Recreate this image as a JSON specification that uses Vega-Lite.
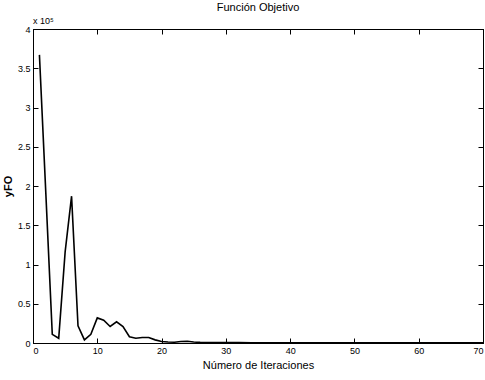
{
  "$schema": "https://vega.github.io/schema/vega-lite/v6.json",
  "width": 450,
  "height": 314,
  "autosize": {"type": "none"},
  "padding": {"left": 33, "top": 29, "right": 2, "bottom": 37},
  "background": "white",
  "config": {
    "font": "Liberation Sans Narrow, Liberation Sans, Arial",
    "view": {"stroke": "black", "strokeWidth": 1},
    "axis": {"grid": false, "domainColor": "black", "tickColor": "black", "labelColor": "black", "titleColor": "black", "labelFontSize": 9, "titleFontSize": 11, "titleFontWeight": "normal", "tickSize": -5, "labelPadding": 8}
  },
  "title": {"text": "Función Objetivo", "fontSize": 11, "fontWeight": "normal", "offset": 4, "color": "black"},
  "data": {"values": [
    {"iter": 1, "yfo": 367000}, {"iter": 2, "yfo": 190000}, {"iter": 3, "yfo": 11000}, {"iter": 4, "yfo": 6000},
    {"iter": 5, "yfo": 116000}, {"iter": 6, "yfo": 187000}, {"iter": 7, "yfo": 22000}, {"iter": 8, "yfo": 4000},
    {"iter": 9, "yfo": 11000}, {"iter": 10, "yfo": 32000}, {"iter": 11, "yfo": 29000}, {"iter": 12, "yfo": 21000},
    {"iter": 13, "yfo": 27000}, {"iter": 14, "yfo": 21000}, {"iter": 15, "yfo": 8000}, {"iter": 16, "yfo": 6000},
    {"iter": 17, "yfo": 7000}, {"iter": 18, "yfo": 7000}, {"iter": 19, "yfo": 4000}, {"iter": 20, "yfo": 2000},
    {"iter": 21, "yfo": 1200}, {"iter": 22, "yfo": 1000}, {"iter": 23, "yfo": 2000}, {"iter": 24, "yfo": 2200},
    {"iter": 25, "yfo": 1200}, {"iter": 26, "yfo": 800}, {"iter": 27, "yfo": 700}, {"iter": 28, "yfo": 600},
    {"iter": 29, "yfo": 600}, {"iter": 30, "yfo": 500}, {"iter": 32, "yfo": 500}, {"iter": 34, "yfo": 400},
    {"iter": 36, "yfo": 400}, {"iter": 38, "yfo": 400}, {"iter": 40, "yfo": 400}, {"iter": 42, "yfo": 400},
    {"iter": 44, "yfo": 400}, {"iter": 46, "yfo": 400}, {"iter": 48, "yfo": 400}, {"iter": 50, "yfo": 400},
    {"iter": 52, "yfo": 400}, {"iter": 54, "yfo": 400}, {"iter": 56, "yfo": 400}, {"iter": 58, "yfo": 400},
    {"iter": 60, "yfo": 400}, {"iter": 62, "yfo": 400}, {"iter": 64, "yfo": 400}, {"iter": 66, "yfo": 400},
    {"iter": 68, "yfo": 400}, {"iter": 70, "yfo": 400}
  ]},
  "layer": [
    {
      "mark": {"type": "line", "color": "black", "strokeWidth": 1.6, "clip": true},
      "encoding": {
        "x": {"field": "iter", "type": "quantitative", "scale": {"domain": [0, 70], "nice": false},
              "axis": {"orient": "bottom", "values": [0,10,20,30,40,50,60,70], "title": "Número de Iteraciones", "titlePadding": 4}},
        "y": {"field": "yfo", "type": "quantitative", "scale": {"domain": [0, 400000], "nice": false},
              "axis": {"orient": "left", "values": [0,50000,100000,150000,200000,250000,300000,350000,400000], "labelExpr": "datum.value/100000", "title": "yFO", "titleFontWeight": "bold", "titlePadding": 4}}
      }
    },
    {
      "mark": {"type": "line", "opacity": 0},
      "encoding": {
        "x": {"field": "iter", "type": "quantitative", "scale": {"domain": [0, 70], "nice": false},
              "axis": {"orient": "top", "values": [0,10,20,30,40,50,60,70], "labels": false, "title": null}},
        "y": {"field": "yfo", "type": "quantitative", "scale": {"domain": [0, 400000], "nice": false},
              "axis": {"orient": "right", "values": [0,50000,100000,150000,200000,250000,300000,350000,400000], "labels": false, "title": null}}
      }
    },
    {
      "data": {"values": [{"iter": 0, "yfo": 400000, "label": "x 10⁵"}]},
      "mark": {"type": "text", "align": "left", "baseline": "bottom", "dy": -3, "fontSize": 9, "color": "black"},
      "encoding": {
        "x": {"field": "iter", "type": "quantitative", "axis": null},
        "y": {"field": "yfo", "type": "quantitative", "axis": null},
        "text": {"field": "label"}
      }
    }
  ],
  "resolve": {"axis": {"x": "independent", "y": "independent"}}
}
